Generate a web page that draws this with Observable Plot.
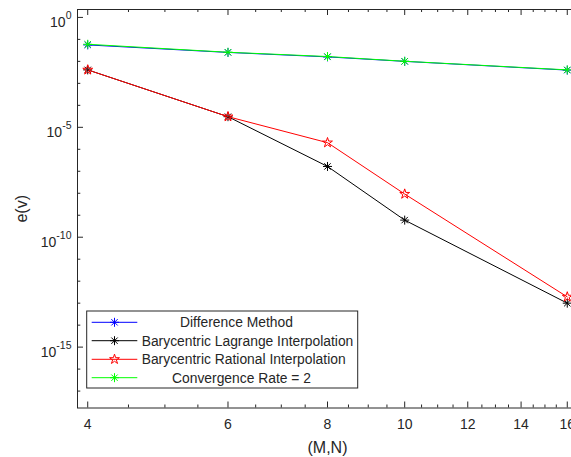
<!DOCTYPE html>
<html><head><meta charset="utf-8">
<script src="https://cdn.jsdelivr.net/npm/d3@7"></script>
<script src="https://cdn.jsdelivr.net/npm/@observablehq/plot@0.6"></script>
<style>
html,body{margin:0;padding:0;background:#fff;}
#wrap{position:relative;width:571px;height:457px;overflow:hidden;background:#fff;}
#legend{position:absolute;left:0;top:0;pointer-events:none;}
</style></head><body><div id="wrap"></div>
<script>
// ---- data ----
const N = [4, 6, 8, 10, 16];
const differenceMethod = [5.6e-2, 2.55e-2, 1.6e-2, 1.0e-2, 4.0e-3];
const lagrange        = [4.1e-3, 3.05e-5, 1.66e-7, 6.0e-10, 1.0e-13];
const rational        = [4.1e-3, 3.05e-5, 2.0e-6, 9.2e-9, 1.93e-13];
const convergence     = [6.0e-2, 2.6e-2, 1.66e-2, 1.01e-2, 4.1e-3];
const seriesNames = ["Difference Method", "Barycentric Lagrange Interpolation", "Barycentric Rational Interpolation", "Convergence Rate = 2"];
const xTicks = [4, 6, 8, 10, 12, 14, 16];
const xMinorTicks = [4.5, 5, 5.5, 6.5, 7, 7.5, 8.5, 9, 9.5, 10.5, 11, 11.5, 12.5, 13, 13.5, 14.5, 15, 15.5];
const yMajorExp = [0, -5, -10, -15];
const yMinorExp = [-1, -2, -3, -4, -6, -7, -8, -9, -11, -12, -13, -14, -16, -17];
const xLabel = "(M,N)";
const yLabel = "e(v)";

// ---- layout ----
const W = 571, H = 457;
const mL = 77, mT = 9, mB = 49.5, mR = -6;
const plotW = W - mL - mR, plotH = H - mT - mB;
const axisColor = "#262626";
const font = "'Liberation Sans', Arial, Helvetica, sans-serif";

const asterisk = {
  draw(ctx, size) {
    const r = Math.sqrt(size / Math.PI), d = r * Math.SQRT1_2;
    ctx.moveTo(-r, 0); ctx.lineTo(r, 0);
    ctx.moveTo(0, -r); ctx.lineTo(0, r);
    ctx.moveTo(-d, -d); ctx.lineTo(d, d);
    ctx.moveTo(-d, d); ctx.lineTo(d, -d);
  }
};
const rows = (ys) => N.map((n, i) => ({n, v: ys[i]}));
const series = [
  {name: seriesNames[0], data: rows(differenceMethod), color: "#0000ff", symbol: asterisk, r: 4.5},
  {name: seriesNames[1], data: rows(lagrange), color: "#000000", symbol: asterisk, r: 4.5},
  {name: seriesNames[2], data: rows(rational), color: "#ff0000", symbol: "star", r: 3.1},
  {name: seriesNames[3], data: rows(convergence), color: "#00ff00", symbol: asterisk, r: 4.5}
];
const exp10 = (e) => Number(`1e${e}`);

const marks = [
  Plot.frame({stroke: axisColor, strokeWidth: 1}),
  Plot.tickX(xTicks, {x: d => d, insetTop: plotH - 6, stroke: axisColor}),
  Plot.tickX(xMinorTicks, {x: d => d, insetTop: plotH - 3, stroke: axisColor}),
  Plot.tickX(xTicks, {x: d => d, insetBottom: plotH - 6, stroke: axisColor}),
  Plot.tickX(xMinorTicks, {x: d => d, insetBottom: plotH - 3, stroke: axisColor}),
  Plot.tickY(yMajorExp.map(exp10), {y: d => d, insetRight: plotW - 6, stroke: axisColor}),
  Plot.tickY(yMinorExp.map(exp10), {y: d => d, insetRight: plotW - 3.3, stroke: axisColor}),
  Plot.axisX({ticks: xTicks, tickSize: 0, tickPadding: 11.5, fontSize: 14, fill: axisColor,
    tickFormat: d => String(d), label: xLabel, labelAnchor: "center", labelArrow: "none", labelOffset: 45}),
  Plot.axisY({ticks: yMajorExp.map(exp10), tickSize: 0, tickPadding: 6, fontSize: 14, fill: axisColor,
    tickFormat: d => String(Math.round(Math.log10(d))), label: yLabel, labelAnchor: "center", labelArrow: "none", labelOffset: 62})
];
for (const s of series) {
  marks.push(Plot.line(s.data, {x: "n", y: "v", stroke: s.color, strokeWidth: 1}));
  marks.push(Plot.dot(s.data, {x: "n", y: "v", symbol: s.symbol, r: s.r, fill: "none", stroke: s.color, strokeWidth: 1}));
}

const chart = Plot.plot({
  width: W, height: H,
  marginLeft: mL, marginTop: mT, marginBottom: mB, marginRight: mR,
  style: {fontFamily: font, fontSize: "14px", background: "white", color: axisColor},
  x: {type: "log", domain: [4 / 1.03, 16 * 1.03], range: [mL, W - mR]},
  y: {type: "log", domain: [1.7e-18, 2.29], range: [H - mB, mT]},
  marks
});
document.getElementById("wrap").appendChild(chart);

// larger axis titles
chart.querySelectorAll('g[aria-label="x-axis label"], g[aria-label="y-axis label"]').forEach(g => {
  g.setAttribute("font-size", "16");
  g.style.fontSize = "16px";
  g.querySelectorAll("text").forEach(t => { t.style.fontSize = "16px"; });
});

// superscript tick labels for y (10^e)
chart.querySelectorAll('g[aria-label="y-axis tick label"] text').forEach(t => {
  const e = t.textContent;
  t.textContent = "";
  t.setAttribute("y", "10");
  const a = document.createElementNS("http://www.w3.org/2000/svg", "tspan");
  a.textContent = "10";
  const b = document.createElementNS("http://www.w3.org/2000/svg", "tspan");
  b.textContent = e;
  b.setAttribute("dy", "-8.5");
  b.setAttribute("font-size", "10.5");
  t.appendChild(a); t.appendChild(b);
});

// ---- legend overlay ----
const lg = d3.select("#wrap").append("svg").attr("id", "legend").attr("width", W).attr("height", H);
const box = {x: 86.7, y: 311, w: 271, h: 77};
lg.append("rect").attr("x", box.x).attr("y", box.y).attr("width", box.w).attr("height", box.h)
  .attr("fill", "white").attr("stroke", axisColor).attr("stroke-width", 1);
const rowY = [322.3, 340.7, 359.3, 377.7];
const textX = [180, 141.7, 141.7, 172];
series.forEach((s, i) => {
  const y = rowY[i];
  lg.append("line").attr("x1", 91.7).attr("x2", 137.3).attr("y1", y).attr("y2", y)
    .attr("stroke", s.color).attr("stroke-width", 1);
  const sym = typeof s.symbol === "string" ? d3.symbolStar : s.symbol;
  lg.append("path").attr("transform", `translate(114.5,${y})`)
    .attr("d", d3.symbol(sym, s.r * s.r * Math.PI)())
    .attr("fill", "none").attr("stroke", s.color).attr("stroke-width", 1);
  lg.append("text").attr("x", textX[i]).attr("y", y + 4.8)
    .attr("font-family", font).attr("font-size", 13.85).attr("fill", axisColor)
    .text(s.name);
});
</script></body></html>
